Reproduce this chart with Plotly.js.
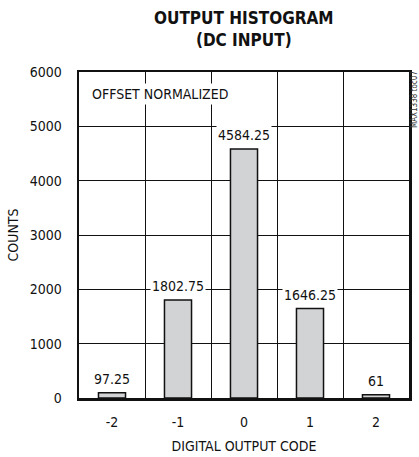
<!DOCTYPE html>
<html><head><meta charset="utf-8">
<script src="https://cdn.plot.ly/plotly-3.0.1.min.js"></script>
<style>html,body{margin:0;padding:0;background:#fff}#c{width:419px;height:457px}</style>
</head><body><div id="c"></div>
<script>
const codes = [-2, -1, 0, 1, 2];
const counts = [97.25, 1802.75, 4584.25, 1646.25, 61];
const countLabels = ["97.25", "1802.75", "4584.25", "1646.25", "61"];
const codeTickLabels = ["-2", "-1", "0", "1", "2"];
const binEdges = [-1.5, -0.5, 0.5, 1.5];

const F = "'Liberation Sans Narrow', 'DejaVu Sans Condensed', Arial, sans-serif";

const trace = {
  type: 'bar', x: codes, y: counts, width: 0.41,
  marker: {color: '#d2d3d5', line: {color: '#111', width: 1.5}},
  hoverinfo: 'skip'
};
const edgeTrace = {type:'scatter', x:[binEdges[0]], y:[0], xaxis:'x2', mode:'markers', marker:{opacity:0}, hoverinfo:'skip', showlegend:false};

const annotations = codes.map((c,i)=>({
  x: c, y: counts[i], xref:'x', yref:'y', text: countLabels[i],
  showarrow:false, yanchor:'bottom', yshift:4,
  font:{family:F, size:14, color:'#111'}, bgcolor:'#fff', borderpad:1
}));
annotations.push({x:0.03, y:0.965, xref:'paper', yref:'paper', xanchor:'left', yanchor:'top',
  text:'OFFSET NORMALIZED', showarrow:false, font:{family:F, size:14, color:'#111'}, bgcolor:'#fff', borderpad:2});
annotations.push({x:1, y:0.914, xref:'paper', yref:'paper', xanchor:'center', yanchor:'middle', xshift:5,
  text:'MAX1338 toc07', textangle:-90, showarrow:false, font:{family:F, size:8, color:'#333'}});
annotations.push({x:0.5, y:1, xref:'paper', yref:'paper', xanchor:'center', yanchor:'bottom', yshift:20,
  text:'<b>OUTPUT HISTOGRAM<br>(DC INPUT)</b>', showarrow:false,
  font:{family:"'DejaVu Sans Condensed', sans-serif", size:17, color:'#111'}});

const layout = {
  width:419, height:457, margin:{l:79, r:10, t:72, b:59},
  paper_bgcolor:'#fff', plot_bgcolor:'#fff', showlegend:false,
  xaxis:{range:[-2.5,2.5], tickvals:codes, ticktext:codeTickLabels, showgrid:false, zeroline:false,
    ticks:'', showline:true, mirror:true, linecolor:'#111', linewidth:2.5, ticklabelstandoff:10,
    tickfont:{family:F, size:14, color:'#111'},
    title:{text:'DIGITAL OUTPUT CODE', font:{family:F, size:14, color:'#111'}, standoff:12}},
  xaxis2:{overlaying:'x', range:[-2.5,2.5], tickvals:binEdges, showticklabels:false, showgrid:true,
    gridcolor:'#111', gridwidth:1, zeroline:false, ticks:'', showline:false, layer:'below traces'},
  yaxis:{range:[0,6000], dtick:1000, showgrid:true, gridcolor:'#111', gridwidth:1, zeroline:false,
    ticks:'', showline:true, mirror:true, linecolor:'#111', linewidth:2.5, ticklabelstandoff:12,
    tickfont:{family:F, size:14, color:'#111'},
    title:{text:'COUNTS', font:{family:F, size:14, color:'#111'}, standoff:8}},
  annotations
};
Plotly.newPlot('c', [edgeTrace, trace], layout, {displayModeBar:false, staticPlot:true});
</script></body></html>
